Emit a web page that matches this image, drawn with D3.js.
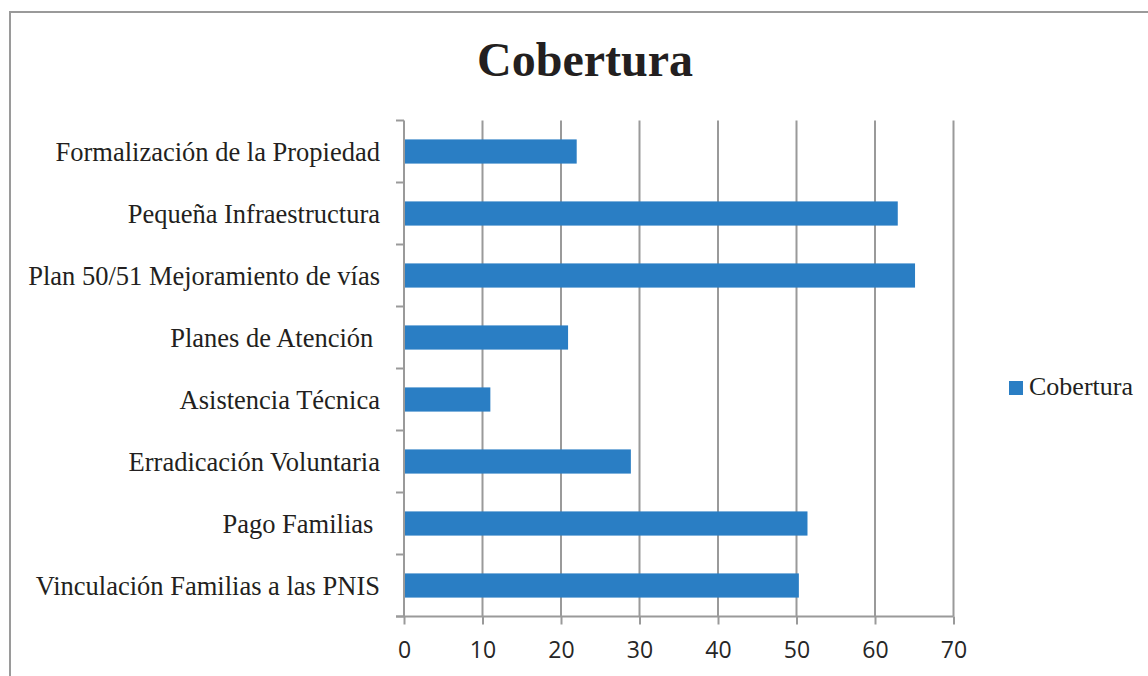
<!DOCTYPE html>
<html>
<head>
<meta charset="utf-8">
<script src="https://cdn.jsdelivr.net/npm/d3@7"></script>
<style>
  body { margin: 0; background: #fff; }
  svg { display: block; }
</style>
</head>
<body>
<script>
// data
const categories = [
  "Formalización de la Propiedad",
  "Pequeña Infraestructura",
  "Plan 50/51 Mejoramiento de vías",
  "Planes de Atención ",
  "Asistencia Técnica",
  "Erradicación Voluntaria",
  "Pago Familias ",
  "Vinculación Familias a las PNIS"
];
const cobertura = [22, 62.9, 65.1, 20.9, 11, 28.9, 51.4, 50.3];
const xTicks = [0, 10, 20, 30, 40, 50, 60, 70];
const seriesName = "Cobertura";

const W = 1148, H = 676;
const blue = "#2a7ec4";
const grid = "#9a9a9a";
const ink = "#231f20";

const svg = d3.select("body").append("svg")
  .attr("width", W).attr("height", H);

// outer frame (cut off at right/bottom like the original)
svg.append("rect")
  .attr("x", 10).attr("y", 12)
  .attr("width", W + 20).attr("height", H + 20)
  .attr("fill", "none").attr("stroke", grid).attr("stroke-width", 2);

// title
svg.append("text")
  .attr("x", 585).attr("y", 76)
  .attr("text-anchor", "middle")
  .style("font-family", "'Liberation Serif', 'Times New Roman', serif")
  .style("font-weight", "bold")
  .style("font-size", "48px")
  .attr("fill", ink)
  .text("Cobertura");

const x = d3.scaleLinear().domain([0, 70]).range([404, 953.5]);
const y = d3.scaleBand().domain(categories).range([120.5, 616.5]).padding(0);

// vertical gridlines
svg.append("g").selectAll("line")
  .data(xTicks.slice(1))
  .join("line")
  .attr("x1", d => x(d)).attr("x2", d => x(d))
  .attr("y1", y.range()[0]).attr("y2", y.range()[1])
  .attr("stroke", grid).attr("stroke-width", 2);

// bars
const barH = y.bandwidth() * 0.39;
svg.append("g").selectAll("rect")
  .data(categories)
  .join("rect")
  .attr("x", x(0))
  .attr("y", d => y(d) + (y.bandwidth() - barH) / 2)
  .attr("width", (d, i) => x(cobertura[i]) - x(0))
  .attr("height", barH)
  .attr("fill", blue);

// x axis
const xAxis = svg.append("g")
  .attr("transform", `translate(0,${y.range()[1]})`)
  .call(d3.axisBottom(x).tickValues(xTicks).tickSize(8).tickPadding(17).tickSizeOuter(0));
xAxis.select(".domain").attr("stroke", grid).attr("stroke-width", 2)
  .attr("d", `M${x(0) - 8},0H${x(70)}`);
xAxis.selectAll(".tick line").attr("stroke", grid).attr("stroke-width", 2);
xAxis.selectAll(".tick text")
  .style("font-family", "'Open Sans', sans-serif")
  .style("font-size", "23px")
  .attr("fill", "#262626");

// y axis: ticks at band boundaries
const yAxisG = svg.append("g");
yAxisG.append("line")
  .attr("x1", x(0)).attr("x2", x(0))
  .attr("y1", y.range()[0]).attr("y2", y.range()[1])
  .attr("stroke", grid).attr("stroke-width", 2);
const bounds = categories.map(c => y(c)).concat([y.range()[1]]);
yAxisG.selectAll("line.tk")
  .data(bounds)
  .join("line")
  .attr("class", "tk")
  .attr("x1", x(0) - 8).attr("x2", x(0))
  .attr("y1", d => d).attr("y2", d => d)
  .attr("stroke", grid).attr("stroke-width", 2);
yAxisG.selectAll("text")
  .data(categories)
  .join("text")
  .attr("x", 380)
  .attr("y", d => y(d) + y.bandwidth() / 2 + 9)
  .attr("text-anchor", "end")
  .attr("xml:space", "preserve")
  .style("white-space", "pre")
  .style("font-family", "'Liberation Serif', 'Times New Roman', serif")
  .style("font-size", "26.5px")
  .attr("fill", ink)
  .text(d => d);

// legend
const leg = svg.append("g").attr("transform", "translate(1009,381)");
leg.append("rect").attr("width", 14).attr("height", 14).attr("fill", blue);
leg.append("text")
  .attr("x", 20).attr("y", 14)
  .style("font-family", "'Liberation Serif', 'Times New Roman', serif")
  .style("font-size", "26px")
  .attr("fill", ink)
  .text(seriesName);
</script>
</body>
</html>
